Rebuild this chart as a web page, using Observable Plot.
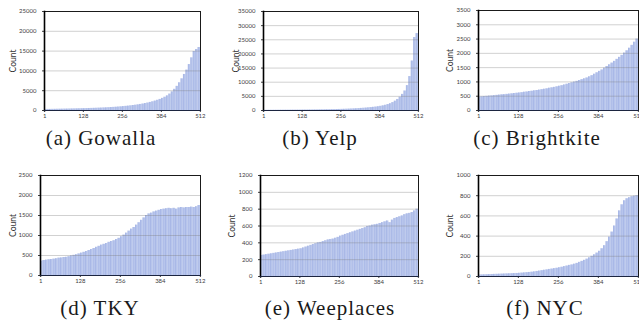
<!DOCTYPE html>
<html><head><meta charset="utf-8">
<script src="https://cdn.jsdelivr.net/npm/d3@7"></script>
<script src="https://cdn.jsdelivr.net/npm/@observablehq/plot@0.6"></script>
<style>
body{margin:0;background:#fff;}
#wrap{position:relative;width:639px;height:326px;overflow:hidden;background:#fff;}
.panel{position:absolute;}
.panel svg{overflow:visible;}
.cap{position:absolute;font-family:"Liberation Serif",serif;font-size:21px;line-height:21px;letter-spacing:1px;color:#1a1a1a;white-space:nowrap;transform:translateX(-50%);}
[aria-label="y-axis label"]{font-size:8.5px;fill:#333;}
</style></head><body><div id="wrap"></div>
<script>
// Each value = mean count of 8 consecutive embedding dims (1..512)
const gowalla=[260,270,280,290,300,315,330,340,355,365,380,395,410,425,440,455,470,490,510,530,550,570,600,620,650,680,710,750,790,830,880,930,990,1050,1110,1180,1260,1340,1430,1530,1640,1760,1890,2040,2200,2380,2580,2800,3060,3350,3700,4150,4700,5350,6100,7000,8000,9100,10200,11600,13300,14900,15400,15900];
const yelp=[60,65,70,75,80,85,90,95,100,105,110,115,120,125,130,140,150,160,170,180,190,200,215,230,245,260,275,290,310,330,350,375,400,430,460,500,540,580,630,680,740,800,870,950,1030,1120,1220,1340,1480,1650,1850,2100,2400,2800,3300,3900,4700,5700,6900,8800,12000,17500,25800,27200];
const brightkite=[470,480,490,495,505,510,520,530,540,550,555,565,575,585,595,605,615,625,640,650,665,675,690,700,715,730,745,760,780,795,810,830,850,870,895,920,945,970,995,1020,1050,1080,1110,1140,1180,1220,1270,1320,1370,1420,1480,1540,1600,1660,1720,1790,1860,1930,2010,2090,2180,2280,2390,2500];
const tky=[360,375,385,395,400,410,420,435,440,450,455,470,490,505,520,540,560,580,600,625,650,675,705,730,760,780,800,830,850,870,900,930,970,1010,1060,1110,1160,1200,1260,1320,1380,1440,1500,1540,1560,1590,1610,1630,1650,1660,1670,1680,1670,1680,1660,1690,1700,1690,1700,1700,1710,1700,1720,1750];
const weeplaces=[250,255,260,265,270,275,280,285,290,295,300,305,310,315,320,325,330,340,350,360,370,380,390,400,405,415,425,435,440,445,455,465,480,490,500,510,520,530,540,550,560,570,580,595,600,610,615,620,630,640,650,660,640,670,690,700,710,720,735,745,750,760,780,800];
const nyc=[15,16,17,18,19,20,21,22,23,24,25,26,27,28,29,30,32,34,36,38,40,43,46,50,54,58,62,66,70,74,78,82,87,92,98,104,110,115,122,130,140,150,160,172,185,200,215,232,250,275,305,345,390,440,500,570,650,710,750,770,780,790,795,800];

const names=["(a) Gowalla","(b) Yelp","(c) Brightkite","(d) TKY","(e) Weeplaces","(f) NYC"];
const series=[gowalla,yelp,brightkite,tky,weeplaces,nyc];
const yMaxes=[25000,35000,3500,2500,1200,1000];
const ySteps=[5000,5000,500,500,200,200];
const xTicks=[1,128,256,384,512];
const dims=512;

// layout (pixels)
const layout=[
  {left:0,  top:0,  ml:44,mr:13,mt:11,mb:20,lo:35,cx:101,cy:128},
  {left:213,top:0,  ml:50,mr:8, mt:11,mb:20,lo:31,cx:320,cy:128},
  {left:426,top:0,  ml:52,mr:1, mt:10,mb:20,lo:32,cx:537,cy:128},
  {left:0,  top:160,ml:40,mr:13,mt:15,mb:15,lo:31,cx:100,cy:298},
  {left:213,top:160,ml:47,mr:8, mt:15,mb:14,lo:32,cx:330,cy:298},
  {left:426,top:160,ml:52,mr:1, mt:15,mb:14,lo:32,cx:545,cy:298}
];

const wrap=document.getElementById("wrap");
series.forEach((vals,i)=>{
  const L=layout[i];
  const bw=dims/vals.length;
  const data=vals.map((v,k)=>({x1:k*bw+0.5,x2:(k+1)*bw+0.5,v}));
  const yt=d3.range(0,yMaxes[i]+1,ySteps[i]);
  const chart=Plot.plot({
    width:213,height:130,
    marginLeft:L.ml,marginRight:L.mr,marginTop:L.mt,marginBottom:L.mb,
    style:{fontFamily:"Lato, 'Open Sans', sans-serif",fontSize:"6px",color:"#404040",background:"transparent"},
    x:{domain:[0.5,dims+0.5],ticks:xTicks,tickFormat:d=>String(d),tickSize:2,tickPadding:1,label:null},
    y:{domain:[0,yMaxes[i]],ticks:yt,tickFormat:d=>String(d),tickSize:2,tickPadding:6,label:"Count",labelAnchor:"center",labelArrow:"none",labelOffset:L.lo},
    marks:[
      Plot.rectY(data,{x1:"x1",x2:"x2",y:"v",fill:"#b7c5ec"}),
      Plot.ruleX(data,{x:"x1",y1:0,y2:"v",stroke:"#7f95d6",strokeWidth:0.5,strokeOpacity:0.5}),
      Plot.gridY(yt,{stroke:"#7a7a7a",strokeOpacity:0.35}),
      Plot.frame({stroke:"#1a1a1a"}),
      Plot.frame({anchor:"left",stroke:"#000",strokeWidth:1.6}),
      Plot.frame({anchor:"bottom",stroke:"#1c2540",strokeWidth:1.2})
    ]
  });
  const d=document.createElement("div");
  d.className="panel";d.style.left=L.left+"px";d.style.top=L.top+"px";
  d.appendChild(chart);wrap.appendChild(d);
  const c=document.createElement("div");
  c.className="cap";c.textContent=names[i];c.style.left=L.cx+"px";c.style.top=L.cy+"px";
  wrap.appendChild(c);
});
</script></body></html>
